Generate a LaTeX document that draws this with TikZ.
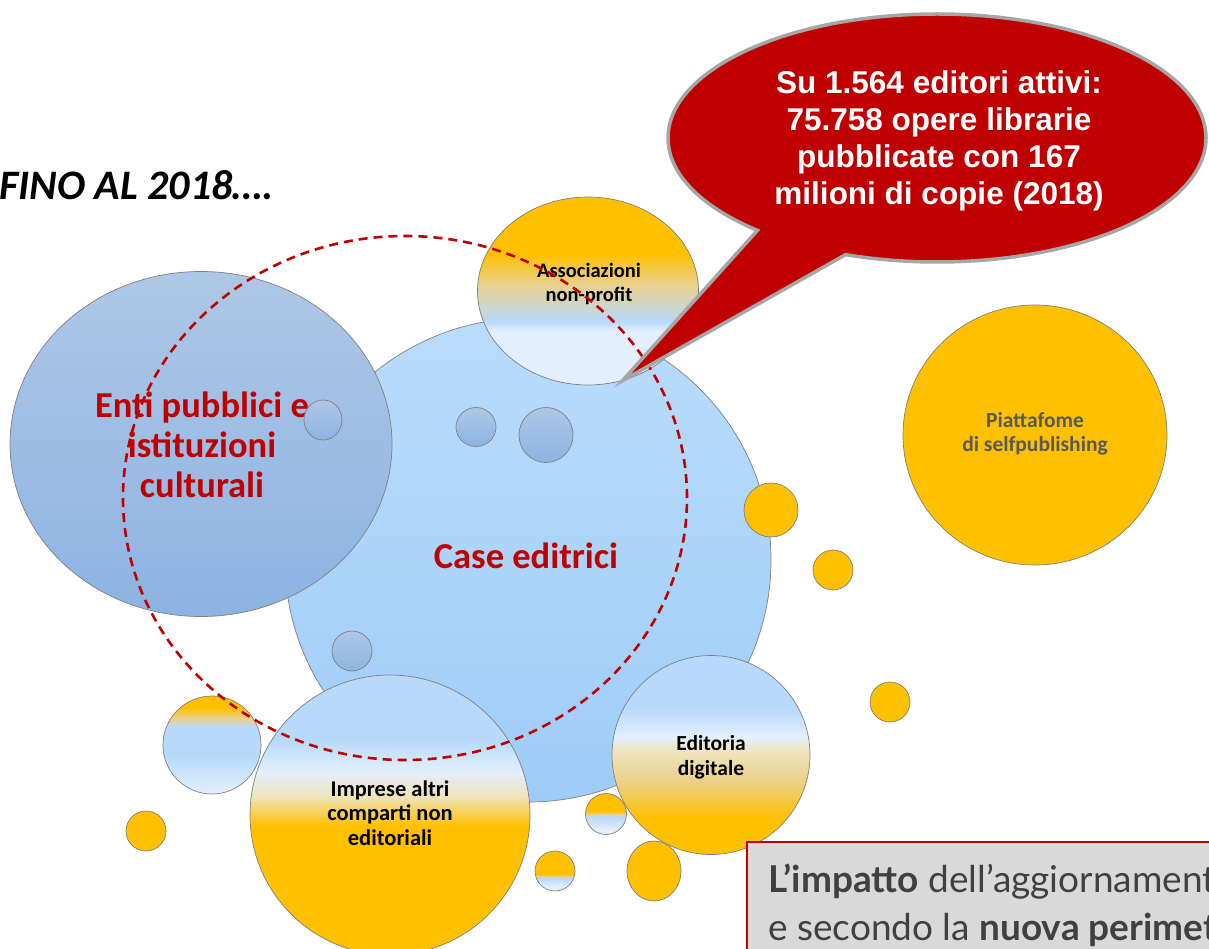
\documentclass[tikz,border=0pt]{standalone}
\usepackage{fontspec}
\setmainfont{Carlito}
\newfontfamily\arialf{Liberation Sans}
\newfontfamily\gillf{Lato}
\usetikzlibrary{shapes.geometric,shapes.callouts}

\definecolor{gold}{HTML}{FFC000}
\definecolor{lblue}{HTML}{B7D9FA}
\definecolor{vlblue}{HTML}{E3EFFC}
\definecolor{beigec}{HTML}{EEE4BE}
\definecolor{tanc}{HTML}{EBD08A}
\definecolor{grayish}{HTML}{CCD6D0}
\definecolor{darkred}{HTML}{C00000}
\definecolor{caseTop}{HTML}{BADCFB}
\definecolor{caseBot}{HTML}{9ECCF8}
\definecolor{entiTop}{HTML}{AEC7E6}
\definecolor{entiBot}{HTML}{8DB3E2}
\definecolor{edgec}{HTML}{7F7F7F}
\definecolor{txtgray}{HTML}{595959}
\definecolor{boxgray}{HTML}{D9D9D9}
\definecolor{boxtext}{HTML}{404040}
\definecolor{bubbleedge}{HTML}{A6A6A6}

\pgfdeclareverticalshading{assocshade}{100bp}{color(0bp)=(vlblue); color(39.5bp)=(vlblue); color(41.8bp)=(lblue); color(45.7bp)=(grayish); color(52bp)=(tanc); color(60bp)=(gold); color(100bp)=(gold)}
\pgfdeclareverticalshading{editshade}{100bp}{color(0bp)=(gold); color(34bp)=(gold); color(43.6bp)=(tanc); color(51bp)=(beigec); color(54.4bp)=(vlblue); color(62bp)=(lblue); color(100bp)=(lblue)}
\pgfdeclareverticalshading{impshade}{100bp}{color(0bp)=(gold); color(48bp)=(gold); color(53.4bp)=(beigec); color(57.7bp)=(vlblue); color(63.5bp)=(lblue); color(100bp)=(lblue)}
\pgfdeclareverticalshading{gshade}{100bp}{color(0bp)=(vlblue); color(25bp)=(vlblue); color(45bp)=(lblue); color(59bp)=(lblue); color(63.8bp)=(tanc); color(69bp)=(gold); color(100bp)=(gold)}
\pgfdeclareverticalshading{smashade}{100bp}{color(0bp)=(vlblue); color(30bp)=(vlblue); color(47bp)=(lblue); color(50bp)=(tanc); color(53bp)=(gold); color(100bp)=(gold)}
\pgfdeclareverticalshading{smbshade}{100bp}{color(0bp)=(vlblue); color(30bp)=(vlblue); color(41bp)=(lblue); color(43.5bp)=(tanc); color(46bp)=(gold); color(100bp)=(gold)}

\tikzset{
  circ/.style={ellipse, draw=edgec, line width=0.7pt, inner sep=0pt},
  sblue/.style={circ, top color=entiTop, bottom color=entiBot},
  sgold/.style={circ, fill=gold},
  redlbl/.style={inner sep=0pt, align=center, text=darkred, font=\bfseries\fontsize{36.5}{40}\selectfont},
  blklbl/.style={inner sep=0pt, align=center, text=black, font=\bfseries\fontsize{22.5}{24.5}\selectfont},
  boxtxt/.style={anchor=base west, inner sep=0pt, text=boxtext, font=\gillf\fontsize{37}{44}\selectfont},
}

\begin{document}
\begin{tikzpicture}[x=1pt,y=-1pt]
\useasboundingbox (0,0) rectangle (1209,949);
\begin{scope}
\clip (0,0) rectangle (1209,949);

% title
\node[anchor=base west, inner sep=0pt, font=\bfseries\itshape\fontsize{42}{46}\selectfont] (title) at (-1,200) {FINO AL 2018….};

% main circles
\node[circ, top color=caseTop, bottom color=caseBot, minimum width=486pt, minimum height=484pt] (case) at (528,560) {};
\node[redlbl] (casetxt) at (526,556) {Case editrici};

\node[circ, top color=entiTop, bottom color=entiBot, minimum width=382pt, minimum height=345pt] (enti) at (201,444) {};
\node[redlbl] (entitxt) at (202,445) {Enti pubblici e\\istituzioni\\culturali};

% small blue circles
\node[sblue, minimum width=38pt, minimum height=40pt] (b1) at (323,420) {};
\node[sblue, minimum width=40pt, minimum height=39pt] (b2) at (476,427) {};
\node[sblue, minimum width=54pt, minimum height=55pt] (b3) at (546,435) {};
\node[sblue, minimum width=40pt, minimum height=40pt] (b4) at (352,651) {};

% associazioni
\node[circ, shade, shading=assocshade, minimum width=221pt, minimum height=188pt] (assoc) at (588,291) {};
\node[inner sep=0pt, align=center, font=\bfseries\fontsize{20.5}{24}\selectfont] (assoctxt) at (589,284) {Associazioni\\non-profit};

% lower circles
\node[circ, shade, shading=gshade, minimum width=98pt, minimum height=98pt] (g1) at (212,745) {};
\node[circ, shade, shading=impshade, minimum width=280pt, minimum height=280pt] (imp) at (390,815) {};
\node[blklbl] (imptxt) at (390,813) {Imprese altri\\comparti non\\editoriali};
\node[sgold, minimum width=40pt, minimum height=40pt] (o4) at (146,831) {};
\node[circ, shade, shading=smbshade, minimum width=40pt, minimum height=40pt] (sm2) at (555,871) {};
\node[circ, shade, shading=smashade, minimum width=41pt, minimum height=41pt] (sm1) at (606,814) {};
\node[circ, shade, shading=editshade, minimum width=198pt, minimum height=199pt] (edit) at (711,755) {};
\node[blklbl, font=\bfseries\fontsize{21.5}{25}\selectfont] (edittxt) at (711,757) {Editoria\\digitale};
\node[sgold, minimum width=54pt, minimum height=60pt] (o5) at (654,871) {};

% right circles
\node[sgold, minimum width=54pt, minimum height=54pt] (o1) at (771,510) {};
\node[sgold, minimum width=40pt, minimum height=40pt] (o2) at (833,570) {};
\node[sgold, minimum width=40pt, minimum height=40pt] (o3) at (890,702) {};
\node[sgold, minimum width=264pt, minimum height=260pt] (piatt) at (1035,435) {};
\node[inner sep=0pt, align=center, text=txtgray, font=\bfseries\fontsize{21.5}{23.5}\selectfont] (piatttxt) at (1035,434) {Piattafome\\di selfpublishing};

% dashed perimeter
\node[ellipse, draw=darkred, line width=2.6pt, dash pattern=on 9pt off 6pt, inner sep=0pt, minimum width=564pt, minimum height=524pt] (perim) at (405,498) {};

% speech bubble
\node[ellipse callout, fill=darkred, draw=bubbleedge, line width=3.5pt, inner sep=0pt,
      minimum width=538pt, minimum height=248pt,
      callout absolute pointer={(assoc.-69)}, callout pointer arc=22] (bubble) at (937,138) {};
\node[inner sep=0pt, text=white, align=center, font=\arialf\bfseries\fontsize{31.5}{37}\selectfont] (bubtxt) at (939,141)
      {Su 1.564 editori attivi:\\75.758 opere librarie\\pubblicate con 167\\milioni di copie (2018)};

% bottom-right box
\node[draw=darkred, fill=boxgray, line width=1.6pt, anchor=north west, inner sep=0pt, minimum width=500pt, minimum height=140pt] (box) at (746,841) {};
\node[boxtxt] (t1) at (768,892) {\textbf{L’impatto} dell’aggiornament};
\node[boxtxt] (t2) at (768,940) {e secondo la \textbf{nuova perimet}};
\end{scope}
\end{tikzpicture}
\end{document}
